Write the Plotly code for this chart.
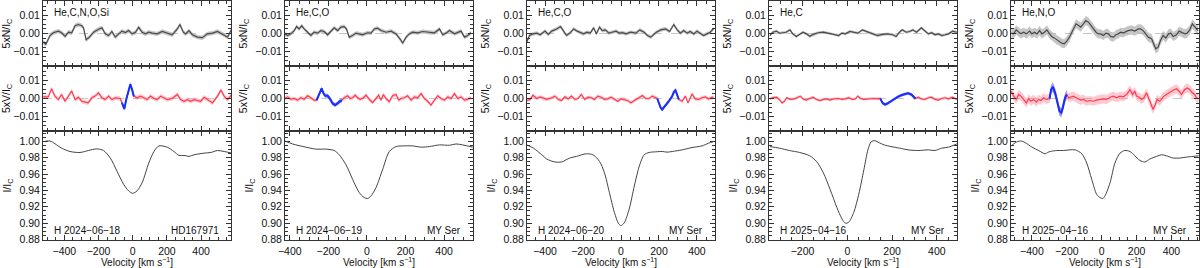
import plotly.graph_objects as go

# ---------------- data ----------------
elements = ["He,C,N,O,Si", "He,C,O", "He,C,O", "He,C", "He,N,O"]
dates = ["H 2024\u221206\u221218", "H 2024\u221206\u221219", "H 2024\u221206\u221220",
         "H 2025\u221204\u221216", "H 2025\u221204\u221216"]
stars = ["HD167971", "MY Ser", "MY Ser", "MY Ser", "MY Ser"]
xranges = [[-525, 575], [-425, 550], [-495, 495], [-350, 490], [-520, 558]]
blue_ranges = [[-63, 6], [-261, -130], [191, 304], [147, 304], [-299, -200]]
sigma_N = [0.0012, 0.0011, 0.0010, 0.0008, 0.0025]
sigma_V = [0.0012, 0.0011, 0.0010, 0.0008, 0.0025]

# Panel 1
vN1 = [-524, -508, -484, -465, -435, -416, -396, -376, -357, -337, -318, -298, -288, -273, -253, -229, -200, -180,
       -161, -141, -122, -102, -82, -63, -43, -24, -4, 16, 35, 55, 75, 94, 114, 143, 173, 202, 231, 261, 276, 296,
       310, 329, 349, 378, 408, 437, 467, 496, 525, 555, 580]
N1 = [-0.0047, -0.0059, -0.0011, 0.0004, 0.0013, 0.0004, -0.0016, 0.0007, 0.0004, 0.0043, 0.0049, 0.0043, 0.0031,
      -0.0034, -0.0020, 0.0007, 0.0023, 0.0031, -0.0002, -0.0011, 0.0011, -0.0020, -0.0002, 0.0013, 0.0005, 0.0016,
      -0.0002, 0.0007, 0.0034, 0.0007, -0.0002, 0.0007, 0.0002, -0.0002, 0.0011, 0.0000, -0.0007, 0.0025, 0.0049,
      0.0007, -0.0002, 0.0016, -0.0007, -0.0020, -0.0023, -0.0002, 0.0002, 0.0011, -0.0002, -0.0020, 0.0025]
vV1 = [-524, -494, -475, -455, -435, -416, -396, -376, -357, -337, -318, -298, -261, -239, -220, -200, -180, -161,
       -141, -122, -102, -73, -63, -49, -38, -24, -14, -4, 6, 25, 45, 65, 84, 104, 124, 143, 163, 182, 202, 231,
       261, 280, 300, 320, 339, 359, 398, 418, 437, 467, 496, 516, 535, 555, 580]
V1 = [0.0009, 0.0009, 0.0054, 0.0013, -0.0006, 0.0022, -0.0015, 0.0013, 0.0041, -0.0006, 0.0007, -0.0015, -0.0024,
      0.0004, 0.0013, 0.0031, 0.0004, -0.0006, 0.0013, -0.0006, 0.0004, 0.0000, -0.0024, -0.0057, -0.0006, 0.0050,
      0.0078, 0.0050, 0.0013, 0.0004, 0.0013, 0.0004, -0.0006, 0.0013, 0.0000, -0.0006, 0.0013, 0.0004, -0.0006,
      0.0000, 0.0022, -0.0006, -0.0015, -0.0006, -0.0015, -0.0006, -0.0015, 0.0007, -0.0006, -0.0024, 0.0013,
      0.0046, 0.0013, -0.0006, 0.0022]
vI1 = [-524, -484, -455, -416, -367, -308, -259, -210, -171, -131, -92, -53, -24, 0, 25, 55, 94, 124, 153, 202,
       241, 271, 300, 329, 359, 418, 457, 496, 535, 580]
I1 = [0.9995, 1.0003, 0.9970, 0.9915, 0.9875, 0.9863, 0.9887, 0.9907, 0.9887, 0.9795, 0.9634, 0.9474, 0.9394,
      0.9365, 0.9394, 0.9494, 0.9734, 0.9875, 0.9943, 0.9927, 0.9875, 0.9827, 0.9827, 0.9815, 0.9835, 0.9855,
      0.9863, 0.9887, 0.9875, 0.9855]

# Panel 2
vN2 = [-426, -412, -395, -377, -365, -352, -338, -326, -308, -291, -274, -256, -239, -222, -204, -187, -170, -152,
       -135, -118, -106, -92, -74, -57, -40, -23, 3, 21, 38, 55, 73, 99, 125, 151, 177, 185, 203, 220, 237, 263,
       289, 315, 350, 376, 393, 410, 428, 454, 471, 488, 506, 523, 540]
N2 = [-0.0002, -0.0011, -0.0002, 0.0016, 0.0038, 0.0025, 0.0042, 0.0025, 0.0007, -0.0011, 0.0007, 0.0002, 0.0016,
      0.0011, -0.0007, 0.0013, 0.0031, 0.0016, 0.0035, 0.0038, 0.0025, -0.0020, -0.0011, 0.0002, -0.0002, -0.0007,
      0.0004, 0.0002, 0.0025, 0.0029, 0.0016, 0.0007, 0.0013, -0.0002, -0.0038, -0.0053, -0.0020, -0.0002, 0.0007,
      0.0004, 0.0011, 0.0007, 0.0004, 0.0025, -0.0007, 0.0002, 0.0016, -0.0002, 0.0007, 0.0013, -0.0020, -0.0011,
      0.0004]
vV2 = [-426, -412, -395, -377, -360, -343, -326, -308, -291, -274, -261, -248, -235, -225, -216, -204, -192, -178,
       -165, -152, -144, -130, -118, -100, -88, -74, -61, -48, -36, -23, -5, 12, 29, 47, 61, 73, 85, 99, 116, 133,
       151, 165, 177, 194, 211, 229, 246, 263, 281, 298, 315, 332, 350, 367, 384, 402, 419, 436, 454, 471, 488, 506,
       523, 540]
V2 = [0.0000, 0.0009, -0.0004, 0.0000, -0.0009, 0.0004, -0.0004, 0.0015, 0.0004, -0.0009, -0.0009, 0.0027, 0.0055,
      0.0027, 0.0015, 0.0015, 0.0000, -0.0027, -0.0036, -0.0027, -0.0018, -0.0009, 0.0004, 0.0015, 0.0000, 0.0004,
      0.0018, 0.0004, -0.0004, 0.0000, 0.0018, -0.0004, -0.0022, 0.0000, 0.0018, -0.0009, 0.0022, 0.0000, -0.0018,
      0.0015, 0.0022, -0.0009, 0.0000, 0.0004, 0.0015, -0.0009, 0.0009, 0.0004, 0.0027, 0.0000, -0.0015, -0.0036,
      -0.0009, 0.0015, 0.0000, -0.0009, 0.0009, 0.0000, 0.0027, 0.0000, 0.0009, -0.0009, -0.0004, 0.0004]
vI2 = [-426, -386, -317, -265, -213, -170, -144, -109, -74, -40, -14, 3, 21, 47, 81, 116, 151, 185, 237, 281, 324,
       376, 428, 462, 497, 549]
I2 = [1.0004, 0.9967, 0.9928, 0.9904, 0.9904, 0.9887, 0.9835, 0.9714, 0.9534, 0.9373, 0.9313, 0.9301, 0.9333,
      0.9434, 0.9654, 0.9875, 0.9935, 0.9943, 0.9943, 0.9928, 0.9935, 0.9955, 0.9951, 0.9967, 0.9955, 0.9928]

# Panel 3
vN3 = [-496, -482, -464, -443, -426, -400, -383, -365, -339, -318, -304, -287, -270, -249, -231, -214, -197, -179,
       -162, -144, -130, -113, -99, -82, -64, -47, -26, -9, 9, 26, 52, 78, 99, 122, 139, 157, 174, 186, 209, 235,
       256, 278, 296, 313, 330, 348, 365, 383, 400, 417, 435, 452, 470, 487]
N3 = [-0.0047, -0.0011, -0.0002, 0.0002, -0.0007, 0.0013, -0.0005, 0.0013, 0.0025, 0.0038, 0.0016, -0.0011, 0.0002,
      0.0025, 0.0013, 0.0004, -0.0002, 0.0007, 0.0002, 0.0031, -0.0002, 0.0035, 0.0016, 0.0020, 0.0002, 0.0007,
      0.0013, 0.0002, 0.0005, -0.0002, 0.0007, 0.0002, 0.0020, 0.0007, -0.0011, -0.0020, -0.0002, 0.0007, 0.0020,
      0.0025, 0.0011, 0.0049, 0.0020, 0.0002, 0.0016, 0.0002, 0.0011, -0.0002, 0.0013, 0.0002, -0.0011, -0.0002,
      0.0007, 0.0025]
vV3 = [-496, -478, -464, -443, -426, -409, -391, -365, -348, -330, -313, -296, -278, -261, -243, -226, -209, -191,
       -174, -157, -139, -122, -104, -87, -70, -52, -35, -17, 0, 17, 35, 52, 70, 96, 113, 130, 148, 165, 183, 191,
       209, 217, 235, 252, 270, 278, 287, 296, 304, 322, 339, 353, 374, 391, 409, 426, 443, 461, 478, 487]
V3 = [-0.0011, -0.0005, 0.0018, 0.0000, 0.0009, 0.0000, -0.0005, 0.0004, 0.0013, -0.0005, -0.0011, 0.0009, -0.0002,
      0.0013, -0.0005, 0.0000, 0.0022, -0.0005, 0.0007, 0.0004, -0.0005, 0.0013, 0.0007, -0.0005, -0.0002, 0.0007,
      -0.0005, -0.0015, -0.0002, -0.0005, -0.0011, -0.0024, -0.0011, 0.0004, 0.0016, 0.0000, 0.0000, 0.0013,
      0.0004, 0.0000, -0.0051, -0.0060, -0.0038, -0.0015, 0.0013, 0.0035, 0.0045, 0.0022, -0.0005, -0.0015, 0.0013,
      -0.0024, 0.0025, -0.0002, -0.0005, 0.0004, 0.0009, -0.0002, 0.0004, 0.0009]
vI3 = [-496, -461, -417, -391, -348, -313, -270, -235, -183, -148, -113, -87, -61, -35, -12, 0, 17, 43, 70, 96, 122,
       148, 183, 217, 243, 270, 322, 374, 426, 461, 487]
I3 = [0.9955, 0.9916, 0.9835, 0.9783, 0.9747, 0.9747, 0.9795, 0.9815, 0.9847, 0.9835, 0.9754, 0.9614, 0.9373,
      0.9133, 0.8992, 0.8971, 0.9004, 0.9172, 0.9453, 0.9694, 0.9835, 0.9863, 0.9871, 0.9875, 0.9867, 0.9875,
      0.9895, 0.9923, 0.9943, 0.9976, 0.9995]

# Panel 4
vN4 = [-346, -334, -316, -304, -289, -274, -256, -244, -228, -213, -198, -183, -168, -153, -130, -107, -85, -62, -39,
       -24, -9, 11, 29, 47, 67, 82, 97, 112, 135, 157, 180, 203, 218, 233, 245, 263, 278, 293, 309, 331, 346, 362,
       377, 392, 407, 422, 437, 452, 470, 489]
N4 = [-0.0011, 0.0007, 0.0013, 0.0002, 0.0004, 0.0007, 0.0020, -0.0002, -0.0016, -0.0002, 0.0007, -0.0002, -0.0015,
      -0.0005, 0.0004, 0.0007, 0.0002, -0.0002, -0.0011, 0.0002, -0.0002, 0.0011, 0.0007, 0.0002, 0.0020, 0.0013,
      0.0005, -0.0002, -0.0011, -0.0005, -0.0002, -0.0007, -0.0016, 0.0007, 0.0020, 0.0007, 0.0011, 0.0020, 0.0007,
      0.0031, 0.0013, -0.0002, 0.0004, -0.0007, -0.0002, -0.0011, -0.0007, -0.0002, 0.0013, 0.0007]
vV4 = [-346, -334, -316, -304, -292, -281, -271, -256, -236, -221, -210, -198, -183, -168, -153, -138, -123, -107,
       -92, -77, -62, -39, -24, -9, 6, 21, 36, 47, 59, 74, 89, 104, 120, 135, 147, 157, 168, 180, 195, 210, 225, 241,
       256, 271, 286, 298, 304, 316, 331, 346, 362, 377, 392, 407, 422, 437, 452, 470, 489]
V4 = [-0.0002, 0.0004, 0.0007, -0.0005, -0.0024, -0.0015, 0.0004, -0.0005, -0.0002, 0.0007, 0.0013, -0.0002,
      -0.0009, 0.0000, 0.0007, -0.0005, -0.0011, -0.0005, -0.0002, -0.0009, -0.0002, 0.0000, -0.0005, -0.0002,
      0.0004, -0.0005, -0.0002, 0.0013, 0.0000, -0.0005, -0.0002, 0.0000, 0.0000, -0.0002, 0.0000, -0.0024, -0.0033,
      -0.0027, -0.0015, -0.0002, 0.0009, 0.0018, 0.0025, 0.0029, 0.0022, 0.0004, 0.0000, 0.0007, -0.0002, -0.0005,
      0.0004, 0.0007, -0.0005, -0.0009, 0.0000, 0.0004, -0.0002, 0.0007, -0.0005]
vI4 = [-346, -304, -259, -213, -168, -138, -107, -77, -47, -24, -9, 6, 29, 51, 74, 92, 107, 123, 142, 165, 195, 233,
       271, 316, 362, 392, 422, 452, 489]
I4 = [0.9935, 0.9916, 0.9887, 0.9863, 0.9823, 0.9754, 0.9614, 0.9413, 0.9193, 0.9052, 0.9000, 0.9012, 0.9133,
      0.9353, 0.9654, 0.9895, 0.9995, 1.0007, 0.9983, 0.9955, 0.9935, 0.9916, 0.9895, 0.9887, 0.9895, 0.9887,
      0.9916, 0.9928, 0.9967]

# Panel 5
vN5 = [-518, -505, -490, -476, -463, -448, -432, -413, -400, -387, -371, -356, -343, -328, -314, -299, -286, -272,
       -257, -242, -229, -215, -200, -185, -171, -158, -147, -133, -120, -105, -91, -76, -63, -48, -32, -19, -6, 10,
       25, 38, 51, 67, 82, 95, 109, 124, 139, 152, 171, 190, 210, 223, 238, 253, 267, 286, 299, 310, 324, 337, 352,
       368, 383, 396, 410, 429, 444, 457, 476, 490, 505, 520, 533, 552]
N5 = [0.0002, -0.0002, 0.0020, 0.0007, -0.0002, 0.0007, -0.0002, 0.0013, -0.0002, 0.0007, -0.0002, 0.0016, -0.0002,
      0.0007, 0.0020, -0.0002, -0.0016, -0.0024, -0.0035, -0.0042, -0.0053, -0.0056, -0.0042, -0.0020, 0.0007,
      0.0038, 0.0053, 0.0044, 0.0035, 0.0053, 0.0071, 0.0062, 0.0044, 0.0025, 0.0007, -0.0002, -0.0002, -0.0011,
      0.0002, -0.0002, -0.0016, -0.0020, -0.0007, -0.0002, 0.0007, 0.0004, 0.0013, 0.0016, 0.0020, 0.0013, 0.0025,
      0.0025, 0.0016, -0.0005, -0.0020, -0.0029, -0.0056, -0.0084, -0.0075, -0.0038, -0.0011, -0.0025, -0.0002,
      0.0002, -0.0016, -0.0007, 0.0013, 0.0007, -0.0002, 0.0002, 0.0020, 0.0053, 0.0038, 0.0016]
vV5 = [-518, -505, -490, -476, -463, -448, -432, -419, -406, -390, -375, -362, -349, -333, -318, -305, -299, -290,
       -280, -267, -253, -242, -232, -223, -210, -200, -190, -177, -162, -147, -133, -120, -105, -86, -67, -48, -29,
       -10, 10, 29, 48, 67, 86, 105, 124, 143, 162, 177, 190, 200, 215, 229, 242, 257, 272, 286, 295, 305, 318, 333,
       352, 371, 390, 410, 429, 444, 457, 476, 490, 505, 520, 533, 543, 556]
V5 = [0.0040, 0.0013, -0.0005, 0.0022, 0.0013, -0.0005, -0.0024, -0.0002, -0.0015, -0.0005, -0.0020, -0.0005,
      -0.0011, 0.0004, -0.0005, -0.0002, 0.0000, 0.0049, 0.0064, 0.0031, -0.0024, -0.0069, -0.0078, -0.0051,
      0.0004, 0.0022, 0.0004, 0.0009, 0.0013, 0.0004, -0.0005, -0.0009, -0.0005, -0.0015, -0.0011, -0.0015,
      -0.0009, -0.0005, -0.0002, -0.0005, 0.0007, 0.0013, 0.0004, 0.0013, 0.0009, 0.0022, 0.0049, 0.0022, 0.0040,
      0.0013, 0.0007, -0.0005, 0.0004, 0.0031, -0.0005, -0.0042, -0.0060, -0.0038, -0.0005, -0.0015, 0.0009,
      0.0022, 0.0035, 0.0045, 0.0053, 0.0040, 0.0022, 0.0049, 0.0058, 0.0049, 0.0031, 0.0022, 0.0004, 0.0000]
vI5 = [-518, -495, -467, -438, -400, -362, -324, -310, -295, -257, -219, -181, -152, -114, -86, -57, -29, -10, 6,
       19, 48, 76, 105, 133, 162, 190, 219, 248, 276, 314, 343, 371, 410, 448, 486, 524, 556]
I5 = [0.9943, 0.9983, 1.0004, 0.9983, 0.9928, 0.9887, 0.9847, 0.9863, 0.9875, 0.9887, 0.9887, 0.9895, 0.9895,
      0.9847, 0.9735, 0.9534, 0.9353, 0.9313, 0.9301, 0.9333, 0.9494, 0.9735, 0.9855, 0.9887, 0.9875, 0.9823,
      0.9766, 0.9747, 0.9783, 0.9815, 0.9835, 0.9823, 0.9795, 0.9795, 0.9807, 0.9815, 0.9823]

vN = [vN1, vN2, vN3, vN4, vN5]
Nvals = [N1, N2, N3, N4, N5]
vV = [vV1, vV2, vV3, vV4, vV5]
Vvals = [V1, V2, V3, V4, V5]
vI = [vI1, vI2, vI3, vI4, vI5]
Ivals = [I1, I2, I3, I4, I5]

# ---------------- styling / layout ----------------
W, H = 1200, 268
FONT = "Liberation Sans, Arial, Helvetica, sans-serif"
col_left = [43 + 242 * i for i in range(5)]
col_w = 188
rows_px = [(1, 66), (66, 131), (131, 240)]   # top, bottom in pixels
yranges = [[-0.0178, 0.0178], [-0.0178, 0.0178], [0.8795, 1.0125]]
ytitles = ["5xN/I<sub>C</sub>", "5xV/I<sub>C</sub>", "I/I<sub>C</sub>"]

GRAY_LINE = "#4a4a4a"
GRAY_BAND = "rgba(160,160,160,0.6)"
RED_LINE = "#ff3b4e"
RED_BAND = "rgba(255,120,140,0.4)"
BLUE_LINE = "#1530ff"
BLUE_BAND = "rgba(70,110,255,0.5)"
TXT = "#111"

fig = go.Figure()
layout = dict(width=W, height=H, margin=dict(l=0, r=0, t=0, b=0, autoexpand=False),
              plot_bgcolor="white", paper_bgcolor="white", showlegend=False,
              font=dict(family=FONT, size=10.5, color=TXT))
annotations = []
shapes = []


def band(x, y, s, color, xa, ya):
    up = [a + s for a in y]
    lo = [a - s for a in y]
    return go.Scatter(x=list(x) + list(x)[::-1], y=up + lo[::-1], fill="toself",
                      fillcolor=color, line=dict(width=0), mode="lines",
                      hoverinfo="skip", xaxis=xa, yaxis=ya)


for i in range(5):
    for r in range(3):
        k = i * 3 + r + 1
        xa = "x" if k == 1 else f"x{k}"
        ya = "y" if k == 1 else f"y{k}"
        xkey = "xaxis" if k == 1 else f"xaxis{k}"
        ykey = "yaxis" if k == 1 else f"yaxis{k}"
        top, bot = rows_px[r]
        x0 = col_left[i] / W
        x1 = (col_left[i] + col_w) / W
        layout[xkey] = dict(
            domain=[x0, x1], range=xranges[i], anchor=ya, automargin=False,
            showgrid=False, zeroline=False, showline=True, linecolor="#333", linewidth=1,
            mirror="ticks", ticks="inside", ticklen=5, tickcolor="#333",
            tick0=0, dtick=200, showticklabels=(r == 2), ticklabelstandoff=1,
            tickfont=dict(size=10.5, family=FONT, color=TXT),
            minor=dict(ticks="inside", ticklen=3, dtick=50, tickcolor="#333"),
        )
        ydt = 0.01 if r < 2 else 0.02
        ymin = 0.0025 if r < 2 else 0.005
        layout[ykey] = dict(
            domain=[1 - bot / H, 1 - top / H], range=yranges[r], anchor=xa, automargin=False,
            showgrid=False, zeroline=False, showline=True, linecolor="#333", linewidth=1,
            mirror="ticks", ticks="inside", ticklen=5, tickcolor="#333",
            tick0=0, dtick=ydt, tickformat=".2f",
            tickfont=dict(size=10.5, family=FONT, color=TXT),
            minor=dict(ticks="inside", ticklen=3, dtick=ymin, tickcolor="#333"),
            title=dict(text=ytitles[r], font=dict(size=10.5, family=FONT, color=TXT), standoff=5),
        )

        if r == 0:
            shapes.append(dict(type="line", xref=xa, yref=ya, x0=xranges[i][0], x1=xranges[i][1], y0=0, y1=0,
                               line=dict(color="#c8c8c8", width=1, dash="dash"), layer="below"))
            fig.add_trace(band(vN[i], Nvals[i], sigma_N[i], GRAY_BAND, xa, ya))
            fig.add_trace(go.Scatter(x=vN[i], y=Nvals[i], mode="lines", line=dict(color=GRAY_LINE, width=1.2),
                                     xaxis=xa, yaxis=ya))
            annotations.append(dict(text=elements[i], xref=f"{xa} domain", yref=f"{ya} domain",
                                    x=0.048, y=0.83, xanchor="left", yanchor="middle", showarrow=False,
                                    font=dict(size=10, family=FONT, color=TXT)))
        elif r == 1:
            shapes.append(dict(type="line", xref=xa, yref=ya, x0=xranges[i][0], x1=xranges[i][1], y0=0, y1=0,
                               line=dict(color="#c8c8c8", width=1, dash="dash"), layer="below"))
            fig.add_trace(band(vV[i], Vvals[i], sigma_V[i], RED_BAND, xa, ya))
            fig.add_trace(go.Scatter(x=vV[i], y=Vvals[i], mode="lines", line=dict(color=RED_LINE, width=1.2),
                                     xaxis=xa, yaxis=ya))
            b0, b1 = blue_ranges[i]
            bx = [v for v in vV[i] if b0 <= v <= b1]
            by = [y for v, y in zip(vV[i], Vvals[i]) if b0 <= v <= b1]
            fig.add_trace(band(bx, by, sigma_V[i], BLUE_BAND, xa, ya))
            fig.add_trace(go.Scatter(x=bx, y=by, mode="lines", line=dict(color=BLUE_LINE, width=2),
                                     xaxis=xa, yaxis=ya))
        else:
            fig.add_trace(go.Scatter(x=vI[i], y=Ivals[i], mode="lines",
                                     line=dict(color="#444", width=1, shape="spline", smoothing=0.8),
                                     xaxis=xa, yaxis=ya))
            annotations.append(dict(text=dates[i], xref=f"{xa} domain", yref=f"{ya} domain",
                                    x=0.048, y=0.085, xanchor="left", yanchor="middle", showarrow=False,
                                    font=dict(size=10, family=FONT, color=TXT)))
            annotations.append(dict(text=stars[i], xref=f"{xa} domain", yref=f"{ya} domain",
                                    x=0.945, y=0.085, xanchor="right", yanchor="middle", showarrow=False,
                                    font=dict(size=10, family=FONT, color=TXT)))
            annotations.append(dict(text="Velocity [km s<sup>\u22121</sup>]", xref=f"{xa} domain", yref="paper",
                                    x=0.5, y=0, xanchor="center", yanchor="bottom", yshift=-2, showarrow=False,
                                    font=dict(size=10, family=FONT, color=TXT)))

layout["annotations"] = annotations
layout["shapes"] = shapes
fig.update_layout(**layout)
fig.write_html("out.html", config={"displayModeBar": False},
               post_script="document.body.style.margin='0';document.body.style.padding='0';")
